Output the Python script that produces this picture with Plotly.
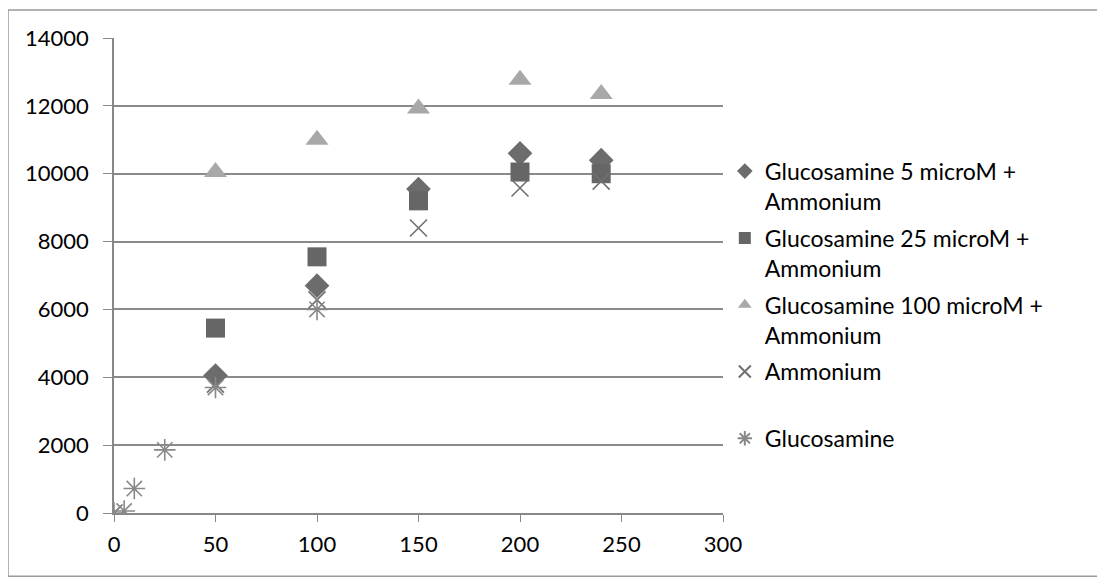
import plotly.graph_objects as go

# Data
x_gluc5 = [50, 100, 150, 200, 240]
y_gluc5 = [4050, 6700, 9550, 10600, 10400]

x_gluc25 = [50, 100, 150, 200, 240]
y_gluc25 = [5450, 7550, 9200, 10050, 10000]

x_gluc100 = [50, 100, 150, 200, 240]
y_gluc100 = [10050, 11000, 11920, 12770, 12350]

x_ammon = [0, 50, 100, 150, 200, 240]
y_ammon = [0, 3800, 6280, 8400, 9580, 9780]

x_gluc = [0, 5, 10, 25, 50, 100]
y_gluc = [0, 60, 720, 1860, 3700, 6000]

names = [
    "Glucosamine 5 microM +<br>Ammonium",
    "Glucosamine 25 microM +<br>Ammonium",
    "Glucosamine 100 microM +<br>Ammonium",
    "Ammonium<br> ",
    "Glucosamine",
]

x_ticks = [0, 50, 100, 150, 200, 250, 300]
y_ticks = [0, 2000, 4000, 6000, 8000, 10000, 12000, 14000]

FONT = "Lato, 'Open Sans', sans-serif"

fig = go.Figure()
fig.add_trace(go.Scatter(x=x_gluc5, y=y_gluc5, mode="markers", name=names[0], legendgroup="a",
                         marker=dict(symbol="diamond", size=19, color="#6c6c6c",
                                     line=dict(width=0))))
fig.add_trace(go.Scatter(x=x_gluc25, y=y_gluc25, mode="markers", name=names[1], legendgroup="b",
                         marker=dict(symbol="square", size=19, color="#666666",
                                     line=dict(width=0))))
fig.add_trace(go.Scatter(x=x_gluc100, y=y_gluc100, mode="markers", name=names[2], legendgroup="c",
                         marker=dict(symbol="triangle-up", size=20, color="#a8a8a8",
                                     line=dict(width=0))))
fig.add_trace(go.Scatter(x=x_ammon, y=y_ammon, mode="markers", name=names[3], legendgroup="d",
                         marker=dict(symbol="x-thin-open", size=17, color="#707070",
                                     line=dict(width=1.6, color="#707070"))))
fig.add_trace(go.Scatter(x=x_gluc, y=y_gluc, mode="markers", name=names[4], legendgroup="e",
                         marker=dict(symbol="asterisk-open", size=18, color="#888888",
                                     line=dict(width=1.6, color="#888888"))))

# page body has an 8px margin, so the figure is sized/offset to compensate
fig.update_layout(
    width=1097, height=569,
    margin=dict(l=106, r=382, t=30, b=64),
    paper_bgcolor="white", plot_bgcolor="white",
    font=dict(family=FONT, size=22, color="#000000"),
    showlegend=True,
    legend=dict(x=1.003, y=0.765, xanchor="left", yanchor="top",
                valign="top", tracegroupgap=4,
                font=dict(family=FONT, size=23, color="#000000"),
                bgcolor="rgba(0,0,0,0)", itemsizing="constant"),
    xaxis=dict(range=[0, 300], tickvals=x_ticks, ticktext=[str(v) for v in x_ticks],
               showgrid=False, zeroline=False, showline=True, linecolor="#888888",
               linewidth=1.5, ticks="outside", ticklen=7, tickcolor="#888888",
               ticklabelstandoff=4,
               tickfont=dict(family=FONT, size=22)),
    yaxis=dict(range=[0, 14000], tickvals=y_ticks, ticktext=[str(v) for v in y_ticks],
               showgrid=True, gridcolor="#8a8a8a", gridwidth=1.5, zeroline=False,
               showline=True, linecolor="#888888", linewidth=1.5,
               ticks="outside", ticklen=9, tickcolor="#8a8a8a",
               ticklabelstandoff=10,
               tickfont=dict(family=FONT, size=22)),
    shapes=[dict(type="rect", xref="paper", yref="paper",
                 x0=(8 - 114) / 609, x1=(1115 - 114) / 609,
                 y0=(512.7 - 576.0) / 474.7, y1=(512.7 - 10) / 474.7,
                 line=dict(color="#9a9a9a", width=1.5), fillcolor="rgba(0,0,0,0)",
                 layer="below")],
)

fig.write_html("out.html")
